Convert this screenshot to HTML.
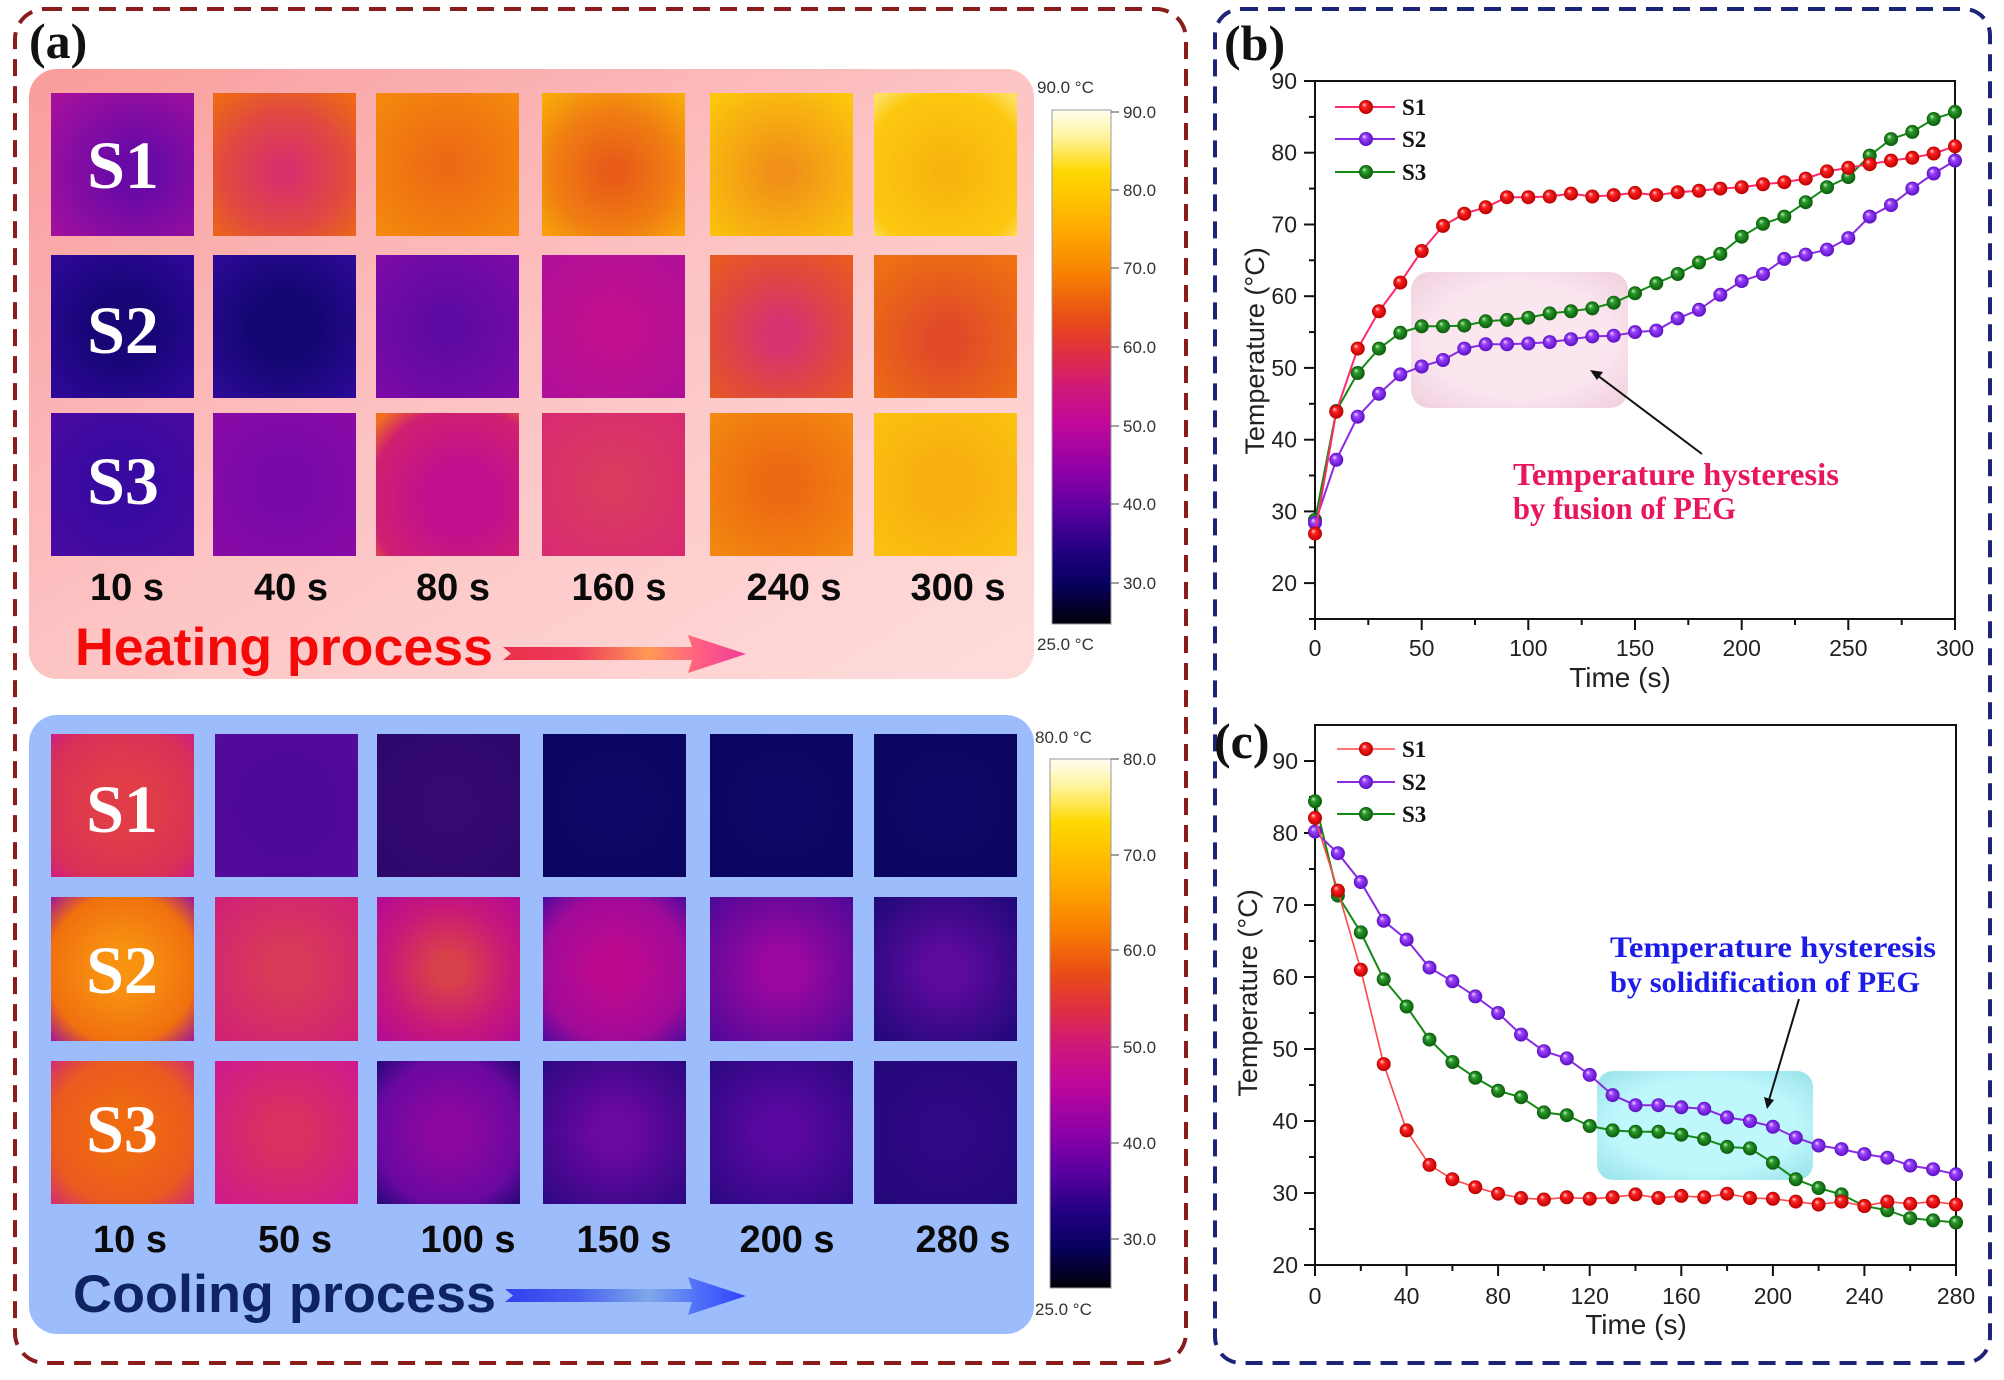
<!DOCTYPE html>
<html><head><meta charset="utf-8"><style>html,body{margin:0;padding:0;background:#fff}svg{display:block}</style></head>
<body>
<svg xmlns="http://www.w3.org/2000/svg" xmlns:xlink="http://www.w3.org/1999/xlink" width="2004" height="1380" viewBox="0 0 2004 1380">
<defs>
<linearGradient id="hbg" x1="0" y1="0" x2="1" y2="1"><stop offset="0" stop-color="#f99c9c"/><stop offset=".5" stop-color="#fdc4c4"/><stop offset="1" stop-color="#fedcdc"/></linearGradient>
<linearGradient id="cbar" x1="0" y1="0" x2="0" y2="1">
<stop offset="0" stop-color="#fffef2"/><stop offset=".05" stop-color="#fff4a0"/><stop offset=".12" stop-color="#ffd800"/><stop offset=".22" stop-color="#ffb000"/><stop offset=".32" stop-color="#f88000"/><stop offset=".41" stop-color="#e84a18"/><stop offset=".47" stop-color="#e03040"/><stop offset=".54" stop-color="#d01878"/><stop offset=".61" stop-color="#c0089a"/><stop offset=".71" stop-color="#8a00a8"/><stop offset=".78" stop-color="#5a00a0"/><stop offset=".86" stop-color="#200080"/><stop offset=".92" stop-color="#080060"/><stop offset="1" stop-color="#000008"/></linearGradient>
<linearGradient id="harr" x1="0" y1="0" x2="1" y2="0"><stop offset="0" stop-color="#e8304a"/><stop offset=".3" stop-color="#ee3a5a"/><stop offset=".6" stop-color="#ff9a55"/><stop offset=".8" stop-color="#ff6080"/><stop offset="1" stop-color="#f03c9a"/></linearGradient>
<linearGradient id="carr" x1="0" y1="0" x2="1" y2="0"><stop offset="0" stop-color="#3040f0"/><stop offset=".3" stop-color="#4860f0"/><stop offset=".6" stop-color="#80a8e8"/><stop offset=".8" stop-color="#5070f8"/><stop offset="1" stop-color="#3040ff"/></linearGradient>
<radialGradient id="gr" cx=".5" cy=".5" r=".5" fx=".35" fy=".3"><stop offset="0" stop-color="#ffd8d8"/><stop offset=".35" stop-color="#ff2020"/><stop offset="1" stop-color="#b80000"/></radialGradient>
<radialGradient id="gp" cx=".5" cy=".5" r=".5" fx=".35" fy=".3"><stop offset="0" stop-color="#f0dcff"/><stop offset=".35" stop-color="#9a40ff"/><stop offset="1" stop-color="#5a10c0"/></radialGradient>
<radialGradient id="gg" cx=".5" cy=".5" r=".5" fx=".35" fy=".3"><stop offset="0" stop-color="#c8f0c8"/><stop offset=".35" stop-color="#2a9a2a"/><stop offset="1" stop-color="#0a5a0a"/></radialGradient>
<circle id="mr" r="7" fill="url(#gr)"/>
<circle id="mp" r="7" fill="url(#gp)"/>
<circle id="mg" r="7" fill="url(#gg)"/>
<!-- heating tiles -->
<radialGradient id="h11" cx=".6" cy=".55" r=".8"><stop offset=".2" stop-color="#6a0aa6"/><stop offset="1" stop-color="#a8109c"/></radialGradient>
<radialGradient id="h12" cx=".5" cy=".55" r=".7"><stop offset=".1" stop-color="#d8306a"/><stop offset=".6" stop-color="#e04a40"/><stop offset="1" stop-color="#ee6a14"/></radialGradient>
<radialGradient id="h13" r=".7"><stop offset=".1" stop-color="#ec6a14"/><stop offset="1" stop-color="#f58a0c"/></radialGradient>
<radialGradient id="h14" cx=".5" cy=".55" r=".7"><stop offset=".1" stop-color="#e85c18"/><stop offset=".6" stop-color="#f07e12"/><stop offset="1" stop-color="#f8aa0a"/></radialGradient>
<radialGradient id="h15" cx=".5" cy=".55" r=".7"><stop offset=".1" stop-color="#f09018"/><stop offset=".7" stop-color="#f8b410"/><stop offset="1" stop-color="#fcc80c"/></radialGradient>
<radialGradient id="h16" cx=".5" cy=".55" r=".7"><stop offset=".1" stop-color="#f8b40e"/><stop offset=".8" stop-color="#fcc810"/><stop offset="1" stop-color="#fde060"/></radialGradient>
<radialGradient id="h21" r=".7"><stop offset=".3" stop-color="#160676"/><stop offset="1" stop-color="#30089a"/></radialGradient>
<radialGradient id="h22" r=".7"><stop offset=".3" stop-color="#120670"/><stop offset="1" stop-color="#2e0a98"/></radialGradient>
<radialGradient id="h23" r=".7"><stop offset=".2" stop-color="#5e0aa2"/><stop offset="1" stop-color="#7e0aa6"/></radialGradient>
<radialGradient id="h24" r=".7"><stop offset=".2" stop-color="#c0108e"/><stop offset="1" stop-color="#b0109a"/></radialGradient>
<radialGradient id="h25" cx=".5" cy=".55" r=".7"><stop offset=".15" stop-color="#d63470"/><stop offset=".6" stop-color="#de4840"/><stop offset="1" stop-color="#e85a20"/></radialGradient>
<radialGradient id="h26" cx=".5" cy=".6" r=".7"><stop offset=".15" stop-color="#e04a28"/><stop offset="1" stop-color="#ee7012"/></radialGradient>
<radialGradient id="h31" r=".7"><stop offset=".3" stop-color="#380aa0"/><stop offset="1" stop-color="#4a0aa2"/></radialGradient>
<radialGradient id="h32" r=".7"><stop offset=".3" stop-color="#7a0aa8"/><stop offset="1" stop-color="#8a0aa6"/></radialGradient>
<radialGradient id="h33" cx=".6" cy=".6" r=".8"><stop offset=".3" stop-color="#c0108e"/><stop offset=".8" stop-color="#d02070"/><stop offset="1" stop-color="#f07020"/></radialGradient>
<radialGradient id="h34" r=".7"><stop offset=".2" stop-color="#d83a60"/><stop offset="1" stop-color="#d82a72"/></radialGradient>
<radialGradient id="h35" r=".7"><stop offset=".2" stop-color="#ec6a12"/><stop offset="1" stop-color="#f48a10"/></radialGradient>
<radialGradient id="h36" r=".7"><stop offset=".2" stop-color="#f8ae10"/><stop offset="1" stop-color="#fbc210"/></radialGradient>
<!-- cooling tiles -->
<radialGradient id="c11" r=".7"><stop offset=".3" stop-color="#e03d48"/><stop offset=".8" stop-color="#d83058"/><stop offset="1" stop-color="#d02080"/></radialGradient>
<radialGradient id="c12" r=".7"><stop offset=".2" stop-color="#4c0898"/><stop offset="1" stop-color="#540a9a"/></radialGradient>
<radialGradient id="c13" r=".7"><stop offset=".2" stop-color="#360872"/><stop offset="1" stop-color="#2c086c"/></radialGradient>
<radialGradient id="c14" r=".7"><stop offset=".2" stop-color="#0e0666"/><stop offset="1" stop-color="#0a0560"/></radialGradient>
<radialGradient id="c21" r=".72"><stop offset=".2" stop-color="#f89210"/><stop offset=".72" stop-color="#f0700f"/><stop offset="1" stop-color="#9a10a0"/></radialGradient>
<radialGradient id="c22" r=".7"><stop offset=".2" stop-color="#d83a58"/><stop offset="1" stop-color="#d02078"/></radialGradient>
<radialGradient id="c23" r=".72"><stop offset=".15" stop-color="#d8404a"/><stop offset=".6" stop-color="#c8187a"/><stop offset="1" stop-color="#b00a96"/></radialGradient>
<radialGradient id="c24" r=".72"><stop offset=".2" stop-color="#bc0a90"/><stop offset=".7" stop-color="#a00a98"/><stop offset="1" stop-color="#4a0aa0"/></radialGradient>
<radialGradient id="c25" r=".72"><stop offset=".2" stop-color="#9a08a0"/><stop offset="1" stop-color="#4c0898"/></radialGradient>
<radialGradient id="c26" r=".72"><stop offset=".2" stop-color="#5c0a9c"/><stop offset="1" stop-color="#1c0878"/></radialGradient>
<radialGradient id="c31" r=".72"><stop offset=".2" stop-color="#f06a10"/><stop offset=".7" stop-color="#ea5a20"/><stop offset="1" stop-color="#d02a78"/></radialGradient>
<radialGradient id="c32" r=".72"><stop offset=".2" stop-color="#d83060"/><stop offset="1" stop-color="#d01890"/></radialGradient>
<radialGradient id="c33" r=".72"><stop offset=".2" stop-color="#8a08a0"/><stop offset=".7" stop-color="#6a08a0"/><stop offset="1" stop-color="#200874"/></radialGradient>
<radialGradient id="c34" r=".72"><stop offset=".2" stop-color="#6a08a0"/><stop offset="1" stop-color="#2a0882"/></radialGradient>
<radialGradient id="c35" r=".72"><stop offset=".2" stop-color="#5a08a0"/><stop offset="1" stop-color="#280880"/></radialGradient>
<radialGradient id="c36" r=".72"><stop offset=".2" stop-color="#300886"/><stop offset="1" stop-color="#220878"/></radialGradient>
<radialGradient id="hlb" r=".75"><stop offset=".55" stop-color="#fbe6f0"/><stop offset="1" stop-color="#eccbd9"/></radialGradient>
<radialGradient id="hlc" r=".75"><stop offset=".55" stop-color="#bff8fc"/><stop offset="1" stop-color="#92dde6"/></radialGradient>
</defs>

<!-- panel borders -->
<rect x="15" y="9" width="1171" height="1354" rx="30" fill="none" stroke="#8b1c1c" stroke-width="4" stroke-dasharray="17 10"/>
<rect x="1215" y="9" width="775" height="1354" rx="26" fill="none" stroke="#1c2478" stroke-width="4" stroke-dasharray="17 10"/>

<!-- panel (a) -->
<text x="29" y="58" font-family="Liberation Serif, serif" font-weight="bold" font-size="50" fill="#111">(a)</text>
<rect x="29" y="69" width="1005" height="610" rx="28" fill="url(#hbg)"/>
<rect x="29" y="715" width="1005" height="619" rx="28" fill="#9cbcfb"/>

<!-- heating tiles -->
<g>
<rect x="51" y="93" width="143" height="143" fill="url(#h11)"/>
<rect x="213" y="93" width="143" height="143" fill="url(#h12)"/>
<rect x="376" y="93" width="143" height="143" fill="url(#h13)"/>
<rect x="542" y="93" width="143" height="143" fill="url(#h14)"/>
<rect x="710" y="93" width="143" height="143" fill="url(#h15)"/>
<rect x="874" y="93" width="143" height="143" fill="url(#h16)"/>
<rect x="51" y="255" width="143" height="143" fill="url(#h21)"/>
<rect x="213" y="255" width="143" height="143" fill="url(#h22)"/>
<rect x="376" y="255" width="143" height="143" fill="url(#h23)"/>
<rect x="542" y="255" width="143" height="143" fill="url(#h24)"/>
<rect x="710" y="255" width="143" height="143" fill="url(#h25)"/>
<rect x="874" y="255" width="143" height="143" fill="url(#h26)"/>
<rect x="51" y="413" width="143" height="143" fill="url(#h31)"/>
<rect x="213" y="413" width="143" height="143" fill="url(#h32)"/>
<rect x="376" y="413" width="143" height="143" fill="url(#h33)"/>
<rect x="542" y="413" width="143" height="143" fill="url(#h34)"/>
<rect x="710" y="413" width="143" height="143" fill="url(#h35)"/>
<rect x="874" y="413" width="143" height="143" fill="url(#h36)"/>
</g>
<g font-family="Liberation Serif, serif" font-weight="bold" font-size="68" fill="#fff" text-anchor="middle">
<text x="123" y="188">S1</text><text x="123" y="353">S2</text><text x="123" y="504">S3</text>
<text x="122" y="832">S1</text><text x="122" y="993">S2</text><text x="122" y="1152">S3</text>
</g>
<g font-family="Liberation Sans, Arial, sans-serif" font-weight="bold" font-size="38" fill="#0a0a0a" text-anchor="middle">
<text x="127" y="600">10 s</text><text x="291" y="600">40 s</text><text x="453" y="600">80 s</text><text x="619" y="600">160 s</text><text x="794" y="600">240 s</text><text x="958" y="600">300 s</text>
<text x="130" y="1252">10 s</text><text x="295" y="1252">50 s</text><text x="468" y="1252">100 s</text><text x="624" y="1252">150 s</text><text x="787" y="1252">200 s</text><text x="963" y="1252">280 s</text>
</g>
<text x="75" y="665" font-family="Liberation Sans, Arial, sans-serif" font-weight="bold" font-size="53" fill="#f50a0a" textLength="418" lengthAdjust="spacingAndGlyphs">Heating process</text>
<polygon points="503,647 692,647 688,635 746,654 688,673 692,660 503,660 511,653.5" fill="url(#harr)"/>

<!-- cooling tiles -->
<g>
<rect x="51" y="734" width="143" height="143" fill="url(#c11)"/>
<rect x="215" y="734" width="143" height="143" fill="url(#c12)"/>
<rect x="377" y="734" width="143" height="143" fill="url(#c13)"/>
<rect x="543" y="734" width="143" height="143" fill="url(#c14)"/>
<rect x="710" y="734" width="143" height="143" fill="url(#c14)"/>
<rect x="874" y="734" width="143" height="143" fill="url(#c14)"/>
<rect x="51" y="897" width="143" height="144" fill="url(#c21)"/>
<rect x="215" y="897" width="143" height="144" fill="url(#c22)"/>
<rect x="377" y="897" width="143" height="144" fill="url(#c23)"/>
<rect x="543" y="897" width="143" height="144" fill="url(#c24)"/>
<rect x="710" y="897" width="143" height="144" fill="url(#c25)"/>
<rect x="874" y="897" width="143" height="144" fill="url(#c26)"/>
<rect x="51" y="1061" width="143" height="143" fill="url(#c31)"/>
<rect x="215" y="1061" width="143" height="143" fill="url(#c32)"/>
<rect x="377" y="1061" width="143" height="143" fill="url(#c33)"/>
<rect x="543" y="1061" width="143" height="143" fill="url(#c34)"/>
<rect x="710" y="1061" width="143" height="143" fill="url(#c35)"/>
<rect x="874" y="1061" width="143" height="143" fill="url(#c36)"/>
</g>
<g font-family="Liberation Serif, serif" font-weight="bold" font-size="68" fill="#fff" text-anchor="middle">
<text x="122" y="832">S1</text><text x="122" y="993">S2</text><text x="122" y="1152">S3</text>
</g>
<text x="73" y="1312" font-family="Liberation Sans, Arial, sans-serif" font-weight="bold" font-size="53" fill="#0e2460" textLength="423" lengthAdjust="spacingAndGlyphs">Cooling process</text>
<polygon points="505,1289 692,1289 688,1277 746,1296 688,1315 692,1302 505,1302 513,1295.5" fill="url(#carr)"/>

<!-- colorbars -->
<rect x="1052" y="110" width="59" height="514" fill="url(#cbar)" stroke="#999" stroke-width="1"/>
<g stroke="#666" stroke-width="1.2">
<line x1="1111" y1="112" x2="1119" y2="112"/><line x1="1111" y1="190" x2="1119" y2="190"/><line x1="1111" y1="268" x2="1119" y2="268"/><line x1="1111" y1="347" x2="1119" y2="347"/><line x1="1111" y1="426" x2="1119" y2="426"/><line x1="1111" y1="504" x2="1119" y2="504"/><line x1="1111" y1="583" x2="1119" y2="583"/>
</g>
<g font-family="Liberation Sans, Arial, sans-serif" font-size="17" fill="#333">
<text x="1037" y="93">90.0 °C</text><text x="1037" y="650">25.0 °C</text>
<text x="1123" y="118">90.0</text><text x="1123" y="196">80.0</text><text x="1123" y="274">70.0</text><text x="1123" y="353">60.0</text><text x="1123" y="432">50.0</text><text x="1123" y="510">40.0</text><text x="1123" y="589">30.0</text>
</g>
<rect x="1050" y="759" width="61" height="529" fill="url(#cbar)" stroke="#999" stroke-width="1"/>
<g stroke="#666" stroke-width="1.2">
<line x1="1111" y1="759" x2="1119" y2="759"/><line x1="1111" y1="855" x2="1119" y2="855"/><line x1="1111" y1="950" x2="1119" y2="950"/><line x1="1111" y1="1047" x2="1119" y2="1047"/><line x1="1111" y1="1143" x2="1119" y2="1143"/><line x1="1111" y1="1239" x2="1119" y2="1239"/>
</g>
<g font-family="Liberation Sans, Arial, sans-serif" font-size="17" fill="#333">
<text x="1035" y="743">80.0 °C</text><text x="1035" y="1315">25.0 °C</text>
<text x="1123" y="765">80.0</text><text x="1123" y="861">70.0</text><text x="1123" y="956">60.0</text><text x="1123" y="1053">50.0</text><text x="1123" y="1149">40.0</text><text x="1123" y="1245">30.0</text>
</g>

<!-- ============ panel (b) ============ -->
<text x="1224" y="60" font-family="Liberation Serif, serif" font-weight="bold" font-size="50" fill="#111">(b)</text>
<rect x="1411" y="272" width="217" height="136" rx="18" fill="url(#hlb)"/>
<rect x="1315" y="81" width="640" height="538" fill="none" stroke="#111" stroke-width="2"/>
<g stroke="#111" stroke-width="2">
<line x1="1304" y1="583.1" x2="1315" y2="583.1"/><line x1="1304" y1="511.4" x2="1315" y2="511.4"/><line x1="1304" y1="439.7" x2="1315" y2="439.7"/><line x1="1304" y1="367.9" x2="1315" y2="367.9"/><line x1="1304" y1="296.2" x2="1315" y2="296.2"/><line x1="1304" y1="224.5" x2="1315" y2="224.5"/><line x1="1304" y1="152.7" x2="1315" y2="152.7"/><line x1="1304" y1="81" x2="1315" y2="81"/>
<line x1="1309" y1="619" x2="1315" y2="619"/><line x1="1309" y1="547.3" x2="1315" y2="547.3"/><line x1="1309" y1="475.5" x2="1315" y2="475.5"/><line x1="1309" y1="403.8" x2="1315" y2="403.8"/><line x1="1309" y1="332.1" x2="1315" y2="332.1"/><line x1="1309" y1="260.3" x2="1315" y2="260.3"/><line x1="1309" y1="188.6" x2="1315" y2="188.6"/><line x1="1309" y1="116.9" x2="1315" y2="116.9"/>
<line x1="1315" y1="619" x2="1315" y2="630"/><line x1="1421.7" y1="619" x2="1421.7" y2="630"/><line x1="1528.3" y1="619" x2="1528.3" y2="630"/><line x1="1635" y1="619" x2="1635" y2="630"/><line x1="1741.7" y1="619" x2="1741.7" y2="630"/><line x1="1848.3" y1="619" x2="1848.3" y2="630"/><line x1="1955" y1="619" x2="1955" y2="630"/>
<line x1="1368.3" y1="619" x2="1368.3" y2="625"/><line x1="1475" y1="619" x2="1475" y2="625"/><line x1="1581.7" y1="619" x2="1581.7" y2="625"/><line x1="1688.3" y1="619" x2="1688.3" y2="625"/><line x1="1795" y1="619" x2="1795" y2="625"/><line x1="1901.7" y1="619" x2="1901.7" y2="625"/>
</g>
<g font-family="Liberation Sans, Arial, sans-serif" font-size="23" fill="#222" text-anchor="end">
<text x="1297" y="591">20</text><text x="1297" y="519.4">30</text><text x="1297" y="447.7">40</text><text x="1297" y="375.9">50</text><text x="1297" y="304.2">60</text><text x="1297" y="232.5">70</text><text x="1297" y="160.7">80</text><text x="1297" y="89">90</text>
</g>
<g font-family="Liberation Sans, Arial, sans-serif" font-size="23" fill="#222" text-anchor="middle">
<text x="1315" y="656">0</text><text x="1421.7" y="656">50</text><text x="1528.3" y="656">100</text><text x="1635" y="656">150</text><text x="1741.7" y="656">200</text><text x="1848.3" y="656">250</text><text x="1955" y="656">300</text>
</g>
<text x="1620" y="687" font-family="Liberation Sans, Arial, sans-serif" font-size="28" fill="#222" text-anchor="middle">Time (s)</text>
<text transform="translate(1264,351) rotate(-90)" font-family="Liberation Sans, Arial, sans-serif" font-size="27" fill="#222" text-anchor="middle">Temperature (°C)</text>

<!-- series b -->
<polyline fill="none" stroke="#148a14" stroke-width="2" points="1315,520 1336.3,411 1357.7,373 1379,348.6 1400.3,332.8 1421.7,326.3 1443,326.3 1464.3,325.6 1485.7,321.3 1507,319.9 1528.3,317.7 1549.7,313.4 1571,311.3 1592.3,308.4 1613.7,302.7 1635,293.3 1656.3,283.3 1677.7,274 1699,262.5 1720.3,253.9 1741.7,236.7 1763,223.8 1784.3,216.6 1805.7,202.2 1827,187.2 1848.3,177.1 1869.7,155.6 1891,139.1 1912.3,131.9 1933.7,119 1955,111.9"/>
<g>
<use href="#mg" x="1315" y="520"/><use href="#mg" x="1336.3" y="411"/><use href="#mg" x="1357.7" y="373"/><use href="#mg" x="1379" y="348.6"/><use href="#mg" x="1400.3" y="332.8"/><use href="#mg" x="1421.7" y="326.3"/><use href="#mg" x="1443" y="326.3"/><use href="#mg" x="1464.3" y="325.6"/><use href="#mg" x="1485.7" y="321.3"/><use href="#mg" x="1507" y="319.9"/><use href="#mg" x="1528.3" y="317.7"/><use href="#mg" x="1549.7" y="313.4"/><use href="#mg" x="1571" y="311.3"/><use href="#mg" x="1592.3" y="308.4"/><use href="#mg" x="1613.7" y="302.7"/><use href="#mg" x="1635" y="293.3"/><use href="#mg" x="1656.3" y="283.3"/><use href="#mg" x="1677.7" y="274"/><use href="#mg" x="1699" y="262.5"/><use href="#mg" x="1720.3" y="253.9"/><use href="#mg" x="1741.7" y="236.7"/><use href="#mg" x="1763" y="223.8"/><use href="#mg" x="1784.3" y="216.6"/><use href="#mg" x="1805.7" y="202.2"/><use href="#mg" x="1827" y="187.2"/><use href="#mg" x="1848.3" y="177.1"/><use href="#mg" x="1869.7" y="155.6"/><use href="#mg" x="1891" y="139.1"/><use href="#mg" x="1912.3" y="131.9"/><use href="#mg" x="1933.7" y="119"/><use href="#mg" x="1955" y="111.9"/>
</g>
<polyline fill="none" stroke="#8a2be2" stroke-width="2" points="1315,522.9 1336.3,459.8 1357.7,416.7 1379,393.8 1400.3,374.4 1421.7,366.5 1443,360 1464.3,348.6 1485.7,344.3 1507,344.3 1528.3,343.5 1549.7,342.1 1571,339.2 1592.3,336.4 1613.7,335.7 1635,332.1 1656.3,330.6 1677.7,318.4 1699,309.8 1720.3,294.8 1741.7,281.1 1763,274 1784.3,258.9 1805.7,254.6 1827,249.6 1848.3,238.1 1869.7,216.6 1891,205.1 1912.3,188.6 1933.7,173.5 1955,160.6"/>
<g>
<use href="#mp" x="1315" y="522.9"/><use href="#mp" x="1336.3" y="459.8"/><use href="#mp" x="1357.7" y="416.7"/><use href="#mp" x="1379" y="393.8"/><use href="#mp" x="1400.3" y="374.4"/><use href="#mp" x="1421.7" y="366.5"/><use href="#mp" x="1443" y="360"/><use href="#mp" x="1464.3" y="348.6"/><use href="#mp" x="1485.7" y="344.3"/><use href="#mp" x="1507" y="344.3"/><use href="#mp" x="1528.3" y="343.5"/><use href="#mp" x="1549.7" y="342.1"/><use href="#mp" x="1571" y="339.2"/><use href="#mp" x="1592.3" y="336.4"/><use href="#mp" x="1613.7" y="335.7"/><use href="#mp" x="1635" y="332.1"/><use href="#mp" x="1656.3" y="330.6"/><use href="#mp" x="1677.7" y="318.4"/><use href="#mp" x="1699" y="309.8"/><use href="#mp" x="1720.3" y="294.8"/><use href="#mp" x="1741.7" y="281.1"/><use href="#mp" x="1763" y="274"/><use href="#mp" x="1784.3" y="258.9"/><use href="#mp" x="1805.7" y="254.6"/><use href="#mp" x="1827" y="249.6"/><use href="#mp" x="1848.3" y="238.1"/><use href="#mp" x="1869.7" y="216.6"/><use href="#mp" x="1891" y="205.1"/><use href="#mp" x="1912.3" y="188.6"/><use href="#mp" x="1933.7" y="173.5"/><use href="#mp" x="1955" y="160.6"/>
</g>
<polyline fill="none" stroke="#ff2a6a" stroke-width="2" points="1315,533.6 1336.3,411.7 1357.7,348.6 1379,311.3 1400.3,282.6 1421.7,251 1443,225.9 1464.3,213.7 1485.7,207.3 1507,197.2 1528.3,197.2 1549.7,196.5 1571,193.6 1592.3,196.5 1613.7,195.1 1635,192.9 1656.3,195.1 1677.7,192.2 1699,190.8 1720.3,188.6 1741.7,187.2 1763,184.3 1784.3,182.2 1805.7,178.6 1827,171.4 1848.3,167.8 1869.7,164.2 1891,160.6 1912.3,157.8 1933.7,153.5 1955,146.3"/>
<g>
<use href="#mr" x="1315" y="533.6"/><use href="#mr" x="1336.3" y="411.7"/><use href="#mr" x="1357.7" y="348.6"/><use href="#mr" x="1379" y="311.3"/><use href="#mr" x="1400.3" y="282.6"/><use href="#mr" x="1421.7" y="251"/><use href="#mr" x="1443" y="225.9"/><use href="#mr" x="1464.3" y="213.7"/><use href="#mr" x="1485.7" y="207.3"/><use href="#mr" x="1507" y="197.2"/><use href="#mr" x="1528.3" y="197.2"/><use href="#mr" x="1549.7" y="196.5"/><use href="#mr" x="1571" y="193.6"/><use href="#mr" x="1592.3" y="196.5"/><use href="#mr" x="1613.7" y="195.1"/><use href="#mr" x="1635" y="192.9"/><use href="#mr" x="1656.3" y="195.1"/><use href="#mr" x="1677.7" y="192.2"/><use href="#mr" x="1699" y="190.8"/><use href="#mr" x="1720.3" y="188.6"/><use href="#mr" x="1741.7" y="187.2"/><use href="#mr" x="1763" y="184.3"/><use href="#mr" x="1784.3" y="182.2"/><use href="#mr" x="1805.7" y="178.6"/><use href="#mr" x="1827" y="171.4"/><use href="#mr" x="1848.3" y="167.8"/><use href="#mr" x="1869.7" y="164.2"/><use href="#mr" x="1891" y="160.6"/><use href="#mr" x="1912.3" y="157.8"/><use href="#mr" x="1933.7" y="153.5"/><use href="#mr" x="1955" y="146.3"/>
</g>
<!-- legend b -->
<line x1="1335" y1="107" x2="1395" y2="107" stroke="#ff2a6a" stroke-width="2"/><use href="#mr" x="1366" y="107"/>
<line x1="1335" y1="139" x2="1395" y2="139" stroke="#8a2be2" stroke-width="2"/><use href="#mp" x="1366" y="139"/>
<line x1="1335" y1="172" x2="1395" y2="172" stroke="#148a14" stroke-width="2"/><use href="#mg" x="1366" y="172"/>
<g font-family="Liberation Serif, serif" font-weight="bold" font-size="23" fill="#111">
<text x="1402" y="115">S1</text><text x="1402" y="147">S2</text><text x="1402" y="180">S3</text>
</g>
<!-- annotation b -->
<line x1="1702" y1="454" x2="1597" y2="375" stroke="#111" stroke-width="2"/>
<polygon points="1590,370 1603,372 1597,380" fill="#111"/>
<g font-family="Liberation Serif, serif" font-weight="bold" font-size="32" fill="#e8175d">
<text x="1513" y="485" textLength="326" lengthAdjust="spacingAndGlyphs">Temperature hysteresis</text>
<text x="1513" y="519" textLength="223" lengthAdjust="spacingAndGlyphs">by fusion of  PEG</text>
</g>

<!-- ============ panel (c) ============ -->
<text x="1214" y="758" font-family="Liberation Serif, serif" font-weight="bold" font-size="50" fill="#111">(c)</text>
<rect x="1597" y="1071" width="216" height="109" rx="16" fill="url(#hlc)"/>
<rect x="1315" y="725" width="641" height="540" fill="none" stroke="#111" stroke-width="2"/>
<g stroke="#111" stroke-width="2">
<line x1="1304" y1="1265" x2="1315" y2="1265"/><line x1="1304" y1="1193" x2="1315" y2="1193"/><line x1="1304" y1="1121" x2="1315" y2="1121"/><line x1="1304" y1="1049" x2="1315" y2="1049"/><line x1="1304" y1="977" x2="1315" y2="977"/><line x1="1304" y1="905" x2="1315" y2="905"/><line x1="1304" y1="833" x2="1315" y2="833"/><line x1="1304" y1="761" x2="1315" y2="761"/>
<line x1="1309" y1="1229" x2="1315" y2="1229"/><line x1="1309" y1="1157" x2="1315" y2="1157"/><line x1="1309" y1="1085" x2="1315" y2="1085"/><line x1="1309" y1="1013" x2="1315" y2="1013"/><line x1="1309" y1="941" x2="1315" y2="941"/><line x1="1309" y1="869" x2="1315" y2="869"/><line x1="1309" y1="797" x2="1315" y2="797"/>
<line x1="1315" y1="1265" x2="1315" y2="1276"/><line x1="1406.6" y1="1265" x2="1406.6" y2="1276"/><line x1="1498.1" y1="1265" x2="1498.1" y2="1276"/><line x1="1589.7" y1="1265" x2="1589.7" y2="1276"/><line x1="1681.3" y1="1265" x2="1681.3" y2="1276"/><line x1="1772.9" y1="1265" x2="1772.9" y2="1276"/><line x1="1864.4" y1="1265" x2="1864.4" y2="1276"/><line x1="1956" y1="1265" x2="1956" y2="1276"/>
<line x1="1360.8" y1="1265" x2="1360.8" y2="1271"/><line x1="1452.4" y1="1265" x2="1452.4" y2="1271"/><line x1="1543.9" y1="1265" x2="1543.9" y2="1271"/><line x1="1635.5" y1="1265" x2="1635.5" y2="1271"/><line x1="1727.1" y1="1265" x2="1727.1" y2="1271"/><line x1="1818.6" y1="1265" x2="1818.6" y2="1271"/><line x1="1910.2" y1="1265" x2="1910.2" y2="1271"/>
</g>
<g font-family="Liberation Sans, Arial, sans-serif" font-size="23" fill="#222" text-anchor="end">
<text x="1298" y="1273">20</text><text x="1298" y="1201">30</text><text x="1298" y="1129">40</text><text x="1298" y="1057">50</text><text x="1298" y="985">60</text><text x="1298" y="913">70</text><text x="1298" y="841">80</text><text x="1298" y="769">90</text>
</g>
<g font-family="Liberation Sans, Arial, sans-serif" font-size="23" fill="#222" text-anchor="middle">
<text x="1315" y="1304">0</text><text x="1406.6" y="1304">40</text><text x="1498.1" y="1304">80</text><text x="1589.7" y="1304">120</text><text x="1681.3" y="1304">160</text><text x="1772.9" y="1304">200</text><text x="1864.4" y="1304">240</text><text x="1956" y="1304">280</text>
</g>
<text x="1636" y="1334" font-family="Liberation Sans, Arial, sans-serif" font-size="28" fill="#222" text-anchor="middle">Time (s)</text>
<text transform="translate(1257,993) rotate(-90)" font-family="Liberation Sans, Arial, sans-serif" font-size="27" fill="#222" text-anchor="middle">Temperature (°C)</text>

<polyline fill="none" stroke="#148a14" stroke-width="2" points="1315,801.3 1337.9,895.6 1360.8,932.4 1383.7,979.2 1406.6,1006.5 1429.5,1039.6 1452.4,1062 1475.3,1077.8 1498.1,1090.8 1521,1097.2 1543.9,1112.4 1566.8,1115.2 1589.7,1126 1612.6,1130.4 1635.5,1131.8 1658.4,1131.8 1681.3,1134.7 1704.2,1139 1727.1,1146.9 1750,1148.4 1772.9,1162.8 1795.8,1179.3 1818.6,1188 1841.5,1194.4 1864.4,1206 1887.3,1210.3 1910.2,1218.2 1933.1,1220.4 1956,1222.5"/>
<g>
<use href="#mg" x="1315" y="801.3"/><use href="#mg" x="1337.9" y="895.6"/><use href="#mg" x="1360.8" y="932.4"/><use href="#mg" x="1383.7" y="979.2"/><use href="#mg" x="1406.6" y="1006.5"/><use href="#mg" x="1429.5" y="1039.6"/><use href="#mg" x="1452.4" y="1062"/><use href="#mg" x="1475.3" y="1077.8"/><use href="#mg" x="1498.1" y="1090.8"/><use href="#mg" x="1521" y="1097.2"/><use href="#mg" x="1543.9" y="1112.4"/><use href="#mg" x="1566.8" y="1115.2"/><use href="#mg" x="1589.7" y="1126"/><use href="#mg" x="1612.6" y="1130.4"/><use href="#mg" x="1635.5" y="1131.8"/><use href="#mg" x="1658.4" y="1131.8"/><use href="#mg" x="1681.3" y="1134.7"/><use href="#mg" x="1704.2" y="1139"/><use href="#mg" x="1727.1" y="1146.9"/><use href="#mg" x="1750" y="1148.4"/><use href="#mg" x="1772.9" y="1162.8"/><use href="#mg" x="1795.8" y="1179.3"/><use href="#mg" x="1818.6" y="1188"/><use href="#mg" x="1841.5" y="1194.4"/><use href="#mg" x="1864.4" y="1206"/><use href="#mg" x="1887.3" y="1210.3"/><use href="#mg" x="1910.2" y="1218.2"/><use href="#mg" x="1933.1" y="1220.4"/><use href="#mg" x="1956" y="1222.5"/>
</g>
<polyline fill="none" stroke="#8a2be2" stroke-width="2" points="1315,831.6 1337.9,853.2 1360.8,882 1383.7,920.8 1406.6,939.6 1429.5,967.6 1452.4,981.3 1475.3,996.4 1498.1,1013 1521,1034.6 1543.9,1051.2 1566.8,1058.4 1589.7,1074.9 1612.6,1095.1 1635.5,1105.2 1658.4,1105.2 1681.3,1107.3 1704.2,1108.8 1727.1,1117.4 1750,1121 1772.9,1126.8 1795.8,1137.6 1818.6,1145.5 1841.5,1149.1 1864.4,1154.1 1887.3,1157.7 1910.2,1165.6 1933.1,1169.2 1956,1174.3"/>
<g>
<use href="#mp" x="1315" y="831.6"/><use href="#mp" x="1337.9" y="853.2"/><use href="#mp" x="1360.8" y="882"/><use href="#mp" x="1383.7" y="920.8"/><use href="#mp" x="1406.6" y="939.6"/><use href="#mp" x="1429.5" y="967.6"/><use href="#mp" x="1452.4" y="981.3"/><use href="#mp" x="1475.3" y="996.4"/><use href="#mp" x="1498.1" y="1013"/><use href="#mp" x="1521" y="1034.6"/><use href="#mp" x="1543.9" y="1051.2"/><use href="#mp" x="1566.8" y="1058.4"/><use href="#mp" x="1589.7" y="1074.9"/><use href="#mp" x="1612.6" y="1095.1"/><use href="#mp" x="1635.5" y="1105.2"/><use href="#mp" x="1658.4" y="1105.2"/><use href="#mp" x="1681.3" y="1107.3"/><use href="#mp" x="1704.2" y="1108.8"/><use href="#mp" x="1727.1" y="1117.4"/><use href="#mp" x="1750" y="1121"/><use href="#mp" x="1772.9" y="1126.8"/><use href="#mp" x="1795.8" y="1137.6"/><use href="#mp" x="1818.6" y="1145.5"/><use href="#mp" x="1841.5" y="1149.1"/><use href="#mp" x="1864.4" y="1154.1"/><use href="#mp" x="1887.3" y="1157.7"/><use href="#mp" x="1910.2" y="1165.6"/><use href="#mp" x="1933.1" y="1169.2"/><use href="#mp" x="1956" y="1174.3"/>
</g>
<polyline fill="none" stroke="#ff4848" stroke-width="1.6" points="1315,817.9 1337.9,890.6 1360.8,969.8 1383.7,1064.1 1406.6,1130.4 1429.5,1164.9 1452.4,1179.3 1475.3,1187.2 1498.1,1193.7 1521,1198 1543.9,1199.5 1566.8,1197.3 1589.7,1198.8 1612.6,1197.3 1635.5,1194.4 1658.4,1198 1681.3,1195.9 1704.2,1197.3 1727.1,1193.7 1750,1198 1772.9,1198.8 1795.8,1201.6 1818.6,1204.5 1841.5,1201.6 1864.4,1206 1887.3,1201.6 1910.2,1203.8 1933.1,1201.6 1956,1204.5"/>
<g>
<use href="#mr" x="1315" y="817.9"/><use href="#mr" x="1337.9" y="890.6"/><use href="#mr" x="1360.8" y="969.8"/><use href="#mr" x="1383.7" y="1064.1"/><use href="#mr" x="1406.6" y="1130.4"/><use href="#mr" x="1429.5" y="1164.9"/><use href="#mr" x="1452.4" y="1179.3"/><use href="#mr" x="1475.3" y="1187.2"/><use href="#mr" x="1498.1" y="1193.7"/><use href="#mr" x="1521" y="1198"/><use href="#mr" x="1543.9" y="1199.5"/><use href="#mr" x="1566.8" y="1197.3"/><use href="#mr" x="1589.7" y="1198.8"/><use href="#mr" x="1612.6" y="1197.3"/><use href="#mr" x="1635.5" y="1194.4"/><use href="#mr" x="1658.4" y="1198"/><use href="#mr" x="1681.3" y="1195.9"/><use href="#mr" x="1704.2" y="1197.3"/><use href="#mr" x="1727.1" y="1193.7"/><use href="#mr" x="1750" y="1198"/><use href="#mr" x="1772.9" y="1198.8"/><use href="#mr" x="1795.8" y="1201.6"/><use href="#mr" x="1818.6" y="1204.5"/><use href="#mr" x="1841.5" y="1201.6"/><use href="#mr" x="1864.4" y="1206"/><use href="#mr" x="1887.3" y="1201.6"/><use href="#mr" x="1910.2" y="1203.8"/><use href="#mr" x="1933.1" y="1201.6"/><use href="#mr" x="1956" y="1204.5"/>
</g>
<!-- legend c -->
<line x1="1337" y1="749" x2="1395" y2="749" stroke="#ff4848" stroke-width="1.6"/><use href="#mr" x="1366" y="749"/>
<line x1="1337" y1="782" x2="1395" y2="782" stroke="#8a2be2" stroke-width="2"/><use href="#mp" x="1366" y="782"/>
<line x1="1337" y1="814" x2="1395" y2="814" stroke="#148a14" stroke-width="2"/><use href="#mg" x="1366" y="814"/>
<g font-family="Liberation Serif, serif" font-weight="bold" font-size="23" fill="#111">
<text x="1402" y="757">S1</text><text x="1402" y="790">S2</text><text x="1402" y="822">S3</text>
</g>
<!-- annotation c -->
<line x1="1799" y1="999" x2="1769" y2="1100" stroke="#111" stroke-width="2"/>
<polygon points="1767,1109 1764,1097 1774,1100" fill="#111"/>
<g font-family="Liberation Serif, serif" font-weight="bold" font-size="30" fill="#1c1ce8">
<text x="1610" y="957" textLength="326" lengthAdjust="spacingAndGlyphs">Temperature hysteresis</text>
<text x="1610" y="992" textLength="310" lengthAdjust="spacingAndGlyphs">by solidification of PEG</text>
</g>
</svg>
</body></html>
